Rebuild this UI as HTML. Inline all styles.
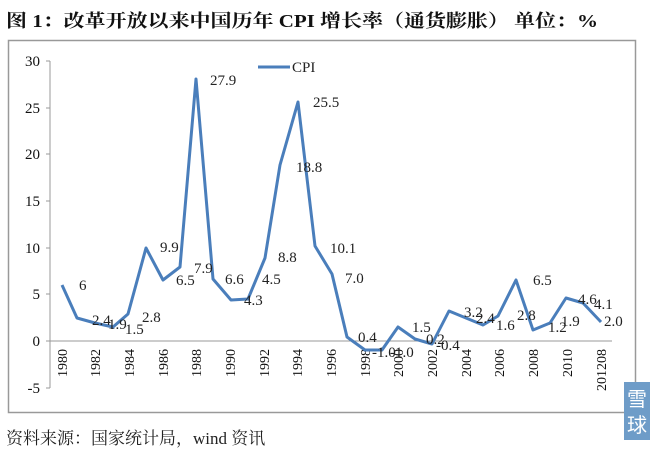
<!DOCTYPE html>
<html><head><meta charset="utf-8"><style>
body{margin:0;background:#fff;width:650px;height:452px;overflow:hidden;font-family:"Liberation Serif","Noto Serif CJK SC",serif;}
</style></head><body>
<svg width="650" height="452" viewBox="0 0 650 452" xmlns="http://www.w3.org/2000/svg" font-family="Liberation Serif, Noto Serif CJK SC, serif">
<text x="6" y="27" font-size="18" font-weight="bold" fill="#111" textLength="592" lengthAdjust="spacingAndGlyphs" font-family="Liberation Serif, Noto Serif CJK SC, serif">图 1：改革开放以来中国历年 CPI 增长率（通货膨胀）    单位：%</text>
<rect x="8.5" y="40.5" width="627" height="372" fill="#fff" stroke="#999" stroke-width="1.5"/>
<g stroke="#999" stroke-width="1">
<line x1="50" y1="61" x2="50" y2="388"/>
<line x1="50" y1="341" x2="612" y2="341"/>
<line x1="46" y1="61" x2="50" y2="61"/><line x1="46" y1="108" x2="50" y2="108"/><line x1="46" y1="154" x2="50" y2="154"/><line x1="46" y1="201" x2="50" y2="201"/><line x1="46" y1="248" x2="50" y2="248"/><line x1="46" y1="294" x2="50" y2="294"/><line x1="46" y1="341" x2="50" y2="341"/><line x1="46" y1="388" x2="50" y2="388"/>
</g>
<g font-size="15" fill="#111" text-anchor="end">
<text x="40" y="66">30</text><text x="40" y="113">25</text><text x="40" y="159">20</text><text x="40" y="206">15</text><text x="40" y="253">10</text><text x="40" y="299">5</text><text x="40" y="346">0</text><text x="40" y="393">-5</text>
</g>
<g font-size="14" fill="#111" text-anchor="end">
<text transform="translate(67,349) rotate(-90)">1980</text>
<text transform="translate(100,349) rotate(-90)">1982</text>
<text transform="translate(134,349) rotate(-90)">1984</text>
<text transform="translate(168,349) rotate(-90)">1986</text>
<text transform="translate(201,349) rotate(-90)">1988</text>
<text transform="translate(235,349) rotate(-90)">1990</text>
<text transform="translate(269,349) rotate(-90)">1992</text>
<text transform="translate(302,349) rotate(-90)">1994</text>
<text transform="translate(336,349) rotate(-90)">1996</text>
<text transform="translate(370,349) rotate(-90)">1998</text>
<text transform="translate(403,349) rotate(-90)">2000</text>
<text transform="translate(437,349) rotate(-90)">2002</text>
<text transform="translate(471,349) rotate(-90)">2004</text>
<text transform="translate(504,349) rotate(-90)">2006</text>
<text transform="translate(538,349) rotate(-90)">2008</text>
<text transform="translate(572,349) rotate(-90)">2010</text>
<text transform="translate(606,349) rotate(-90)">201208</text>
</g>
<polyline fill="none" stroke="#4a7ebb" stroke-width="3" stroke-linejoin="round" points="62,285 77,318 95,323 113,327 128,314 146,248 163,280 180,267 196,79 213,279 231,300 248,299 265,258 280,165 298,102 315,246 332,274 347,337 365,350 382,350 398,327 415,339 432,344 449,311 466,318 483,325 498,316 516,280 533,330 550,323 566,298 583,303 601,322"/>
<line x1="258" y1="67" x2="290" y2="67" stroke="#4a7ebb" stroke-width="3"/>
<text x="292" y="72" font-size="15" fill="#222">CPI</text>
<g font-size="15" fill="#222">
<text x="79" y="290">6</text>
<text x="92" y="325">2.4</text><text x="108" y="329">1.9</text><text x="125" y="334">1.5</text><text x="142" y="322">2.8</text>
<text x="160" y="252">9.9</text><text x="176" y="285">6.5</text><text x="194" y="273">7.9</text>
<text x="210" y="85">27.9</text>
<text x="225" y="284">6.6</text><text x="244" y="305">4.3</text><text x="262" y="284">4.5</text>
<text x="278" y="262">8.8</text><text x="296" y="172">18.8</text><text x="313" y="107">25.5</text>
<text x="330" y="253">10.1</text><text x="345" y="283">7.0</text>
<text x="358" y="342">0.4</text><text x="372" y="357">-1.0</text><text x="390" y="357">-1.0</text>
<text x="412" y="332">1.5</text><text x="426" y="344">0.2</text><text x="436" y="350">-0.4</text>
<text x="464" y="317">3.2</text><text x="476" y="323">2.4</text><text x="496" y="330">1.6</text>
<text x="517" y="320">2.8</text><text x="533" y="285">6.5</text><text x="548" y="332">1.2</text>
<text x="561" y="326">1.9</text><text x="578" y="304">4.6</text><text x="594" y="309">4.1</text><text x="604" y="326">2.0</text>
</g>
<text x="6" y="444" font-size="17" fill="#222" font-family="Liberation Serif, Noto Serif CJK SC, serif">资料来源：国家统计局，wind 资讯</text>
<rect x="624" y="382" width="26" height="58" fill="#6e9cc8"/>
<text x="637" y="406" font-size="20" fill="#fff" text-anchor="middle" font-family="Noto Sans CJK SC, sans-serif">雪</text>
<text x="637" y="432" font-size="20" fill="#fff" text-anchor="middle" font-family="Noto Sans CJK SC, sans-serif">球</text>
</svg>
</body></html>
